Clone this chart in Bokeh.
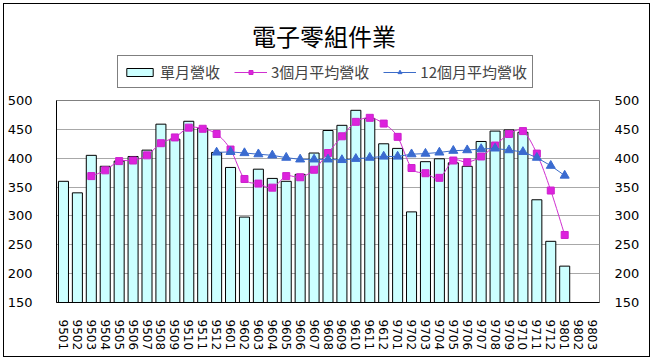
import numpy as np
from bokeh.plotting import figure
from bokeh.layouts import column
from bokeh.models import (ColumnDataSource, LinearAxis, FixedTicker, Legend,
                          LegendItem, Range1d, Label)
from bokeh.embed import file_html
from bokeh.resources import INLINE

# ---- data ----
months = ["9501", "9502", "9503", "9504", "9505", "9506", "9507", "9508", "9509", "9510", "9511", "9512",
          "9601", "9602", "9603", "9604", "9605", "9606", "9607", "9608", "9609", "9610", "9611", "9612",
          "9701", "9702", "9703", "9704", "9705", "9706", "9707", "9708", "9709", "9710", "9711", "9712",
          "9801", "9802", "9803"]
monthly = [360, 340, 405, 386, 395, 403, 414, 459, 433, 464, 452, 410,
           384, 298, 381, 365, 360, 372, 409, 448, 457, 483, 469, 425,
           417, 307, 394, 399, 392, 386, 429, 447, 449, 445, 328, 256,
           213]
avg3 = [None, None, 369, 379, 395, 396, 405, 426, 436, 453, 451, 442,
        415, 364, 356, 349, 369, 367, 380, 409, 438, 463, 470, 460,
        437, 383, 374, 366, 396, 393, 403, 422, 442, 447, 408, 344,
        267]
avg12 = [None] * 11 + [410,
         411, 409, 407, 405, 401, 398, 398, 398, 397, 399, 401, 403,
         403, 407, 408, 410, 413, 414, 416, 417, 414, 411, 401, 387,
         370]
yticks = [150, 200, 250, 300, 350, 400, 450, 500]
title_text = "電子零組件業"
labels = ["單月營收", "3個月平均營收", "12個月平均營收"]

n = len(months)
xc = [i + 0.5 for i in range(n)]

CJK = "Noto Sans CJK TC"
NUM = "DejaVu Sans"
PINK = "#D030D0"
BLUE = "#3C6CC8"
W = 653
HEAD_H = 90
BL, BR = 56, 54          # left / right borders of both panels
FW = W - BL - BR          # frame width

# sources
bar_src = ColumnDataSource(dict(x=xc[:len(monthly)], top=monthly))
idx3 = [i for i, v in enumerate(avg3) if v is not None]
px = np.array([xc[i] for i in idx3], dtype=float)
py = np.array([avg3[i] for i in idx3], dtype=float)
pink_src = ColumnDataSource(dict(x=px, y=py))
idx12 = [i for i, v in enumerate(avg12) if v is not None]
blue_src = ColumnDataSource(dict(x=[xc[i] for i in idx12], y=[avg12[i] for i in idx12]))

# ---------- main chart ----------
p = figure(width=W, height=360 - HEAD_H, x_range=Range1d(0, n), y_range=Range1d(150, 500),
           output_backend="svg", toolbar_location=None,
           min_border_left=BL, min_border_right=BR, min_border_top=100 - HEAD_H,
           min_border_bottom=58)
p.background_fill_color = "white"
p.border_fill_alpha = 0
p.outline_line_color = "#808080"

p.vbar(x="x", top="top", width=0.72, source=bar_src,
       fill_color="#CCFFFF", line_color="black", line_width=1)

# smoothed 3-month curve (Bezier segments through the points)
ext_x = np.concatenate([[px[0]], px, [px[-1]]])
ext_y = np.concatenate([[py[0]], py, [py[-1]]])
k = 1.0 / 6.0
cx0 = px[:-1] + (ext_x[2:-1] - ext_x[0:-3]) * k
cy0 = py[:-1] + (ext_y[2:-1] - ext_y[0:-3]) * k
cx1 = px[1:] - (ext_x[3:] - ext_x[1:-2]) * k
cy1 = py[1:] - (ext_y[3:] - ext_y[1:-2]) * k
p.bezier(x0=px[:-1], y0=py[:-1], x1=px[1:], y1=py[1:],
         cx0=cx0, cy0=cy0, cx1=cx1, cy1=cy1, line_color=PINK, line_width=1)
p.scatter(x="x", y="y", source=pink_src, marker="square", size=7,
          fill_color="#DD22DD", line_color="#CC22CC")

p.line(x="x", y="y", source=blue_src, line_color=BLUE, line_width=1)
p.scatter(x="x", y="y", source=blue_src, marker="triangle", size=9,
          fill_color="#3A6BD0", line_color="#3A6BD0")

p.xgrid.visible = False
p.ygrid.ticker = FixedTicker(ticks=yticks)
p.ygrid.grid_line_color = "#A8A8A8"

xa = p.xaxis[0]
xa.ticker = FixedTicker(ticks=xc)
xa.major_label_overrides = {xc[i]: months[i] for i in range(n)}
xa.major_label_orientation = "vertical"
xa.major_tick_line_color = None
xa.minor_tick_line_color = None
xa.axis_line_color = "black"
xa.major_label_standoff = 11
xa.major_label_text_font = NUM
xa.major_label_text_font_size = "12px"
xa.major_label_text_color = "black"

ya = p.yaxis[0]
ya.ticker = FixedTicker(ticks=yticks)
ya.major_tick_line_color = None
ya.minor_tick_line_color = None
ya.axis_line_color = "black"
ya.major_label_standoff = 18
ya.major_label_text_font = NUM
ya.major_label_text_font_size = "13px"
ya.major_label_text_color = "black"

ra = LinearAxis(ticker=FixedTicker(ticks=yticks))
ra.major_tick_line_color = None
ra.minor_tick_line_color = None
ra.axis_line_color = None
ra.major_label_standoff = 9
ra.major_label_text_font = NUM
ra.major_label_text_font_size = "13px"
ra.major_label_text_color = "black"
p.add_layout(ra, "right")

# ---------- header: title + legend ----------
h = figure(width=W, height=HEAD_H, x_range=Range1d(0, FW), y_range=Range1d(HEAD_H, 0),
           output_backend="svg", toolbar_location=None,
           min_border_left=BL, min_border_right=BR, min_border_top=0, min_border_bottom=0,
           x_axis_type=None, y_axis_type=None)
h.outline_line_color = None
h.background_fill_alpha = 0
h.border_fill_alpha = 0
h.xgrid.visible = False
h.ygrid.visible = False

# legend proxies (no visible marks in the header)
nan_src = ColumnDataSource(dict(x=[np.nan], y=[np.nan], top=[np.nan]))
hb = h.vbar(x="x", top="top", width=0.72, source=nan_src,
            fill_color="#CCFFFF", line_color="black", line_width=1)
hpl = h.line(x="x", y="y", source=nan_src, line_color=PINK, line_width=1)
hps = h.scatter(x="x", y="y", source=nan_src, marker="square", size=7,
                fill_color="#DD22DD", line_color="#CC22CC")
hbl = h.line(x="x", y="y", source=nan_src, line_color=BLUE, line_width=1)
hbs = h.scatter(x="x", y="y", source=nan_src, marker="triangle", size=9,
                fill_color="#3A6BD0", line_color="#3A6BD0")

h.add_layout(Label(x=323.5 - BL, y=35, text=title_text, text_align="center",
                   text_baseline="middle", text_font=CJK, text_font_size="24px",
                   text_color="black"))

legend = Legend(items=[
    LegendItem(label=labels[0], renderers=[hb]),
    LegendItem(label=labels[1], renderers=[hpl, hps]),
    LegendItem(label=labels[2], renderers=[hbl, hbs]),
], orientation="horizontal", location=(117 - BL, HEAD_H - 88))
legend.border_line_color = "black"
legend.border_line_width = 1
legend.padding = 5
legend.spacing = 14
legend.margin = 0
legend.glyph_width = 33
legend.glyph_height = 10
legend.label_standoff = 4
legend.label_text_font = CJK
legend.label_text_font_size = "15px"
legend.label_height = 20
legend.background_fill_color = "white"
legend.background_fill_alpha = 1
h.add_layout(legend, "center")

layout = column(h, p, spacing=0,
                styles={"background-color": "white", "outline": "1px solid black",
                        "outline-offset": "-4px"})

open("out.html", "w").write(file_html(layout, INLINE))
